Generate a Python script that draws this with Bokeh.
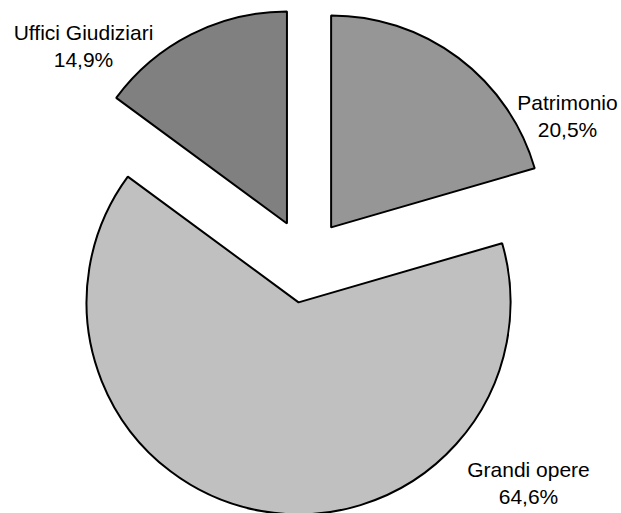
import math
from bokeh.plotting import figure
from bokeh.models import Range1d, ColumnDataSource
from bokeh.core.properties import value
from bokeh.embed import file_html
from bokeh.resources import INLINE

# ---- data ----
categories = ["Patrimonio", "Grandi opere", "Uffici Giudiziari"]
shares = [20.5, 64.6, 14.9]
pct_labels = ["20,5%", "64,6%", "14,9%"]
colors = ["#969696", "#c0c0c0", "#808080"]

# ---- layout (screen pixels of the page) ----
W, H = 621, 513
cx, cy = 305.4, 260.5      # pie centre (px, y down)
R = 212                    # radius in px
EXPLODE = 42               # explode distance in px
label_pos = [(567, 101.5), (528, 468.5), (83, 31.5)]  # name baseline centre
LINE_GAP = 27
FONT = "Liberation Sans"
FSIZE = "21px"

total = sum(shares)
xs, ys, starts, ends = [], [], [], []
theta = 0.0
for s in shares:
    span = 360.0 * s / total
    t0, t1 = theta, theta + span
    mid = math.radians((t0 + t1) / 2)
    xs.append(cx + EXPLODE * math.sin(mid))
    ys.append(-(cy - EXPLODE * math.cos(mid)))
    starts.append(math.radians(90 - t1))
    ends.append(math.radians(90 - t0))
    theta = t1

src = ColumnDataSource(dict(x=xs, y=ys, start=starts, end=ends, color=colors))

p = figure(width=W, height=H, output_backend="svg", toolbar_location=None,
           x_range=Range1d(0, W), y_range=Range1d(-H, 0),
           min_border=0, outline_line_color=None, background_fill_color="white")
p.axis.visible = False
p.xgrid.visible = False
p.ygrid.visible = False

p.wedge(x="x", y="y", radius=R, start_angle="start", end_angle="end",
        direction="anticlock", fill_color="color", line_color="black",
        line_width=2, source=src)

tsrc = ColumnDataSource(dict(
    x=[lp[0] for lp in label_pos],
    y1=[-lp[1] for lp in label_pos],
    y2=[-(lp[1] + LINE_GAP) for lp in label_pos],
    name=categories, pct=pct_labels))
p.text(x="x", y="y1", text="name", source=tsrc, text_align="center",
       text_baseline="alphabetic", text_font=value(FONT),
       text_font_size=FSIZE, text_color="black")
p.text(x="x", y="y2", text="pct", source=tsrc, text_align="center",
       text_baseline="alphabetic", text_font=value(FONT),
       text_font_size=FSIZE, text_color="black")

open("out.html", "w").write(file_html(p, INLINE))
